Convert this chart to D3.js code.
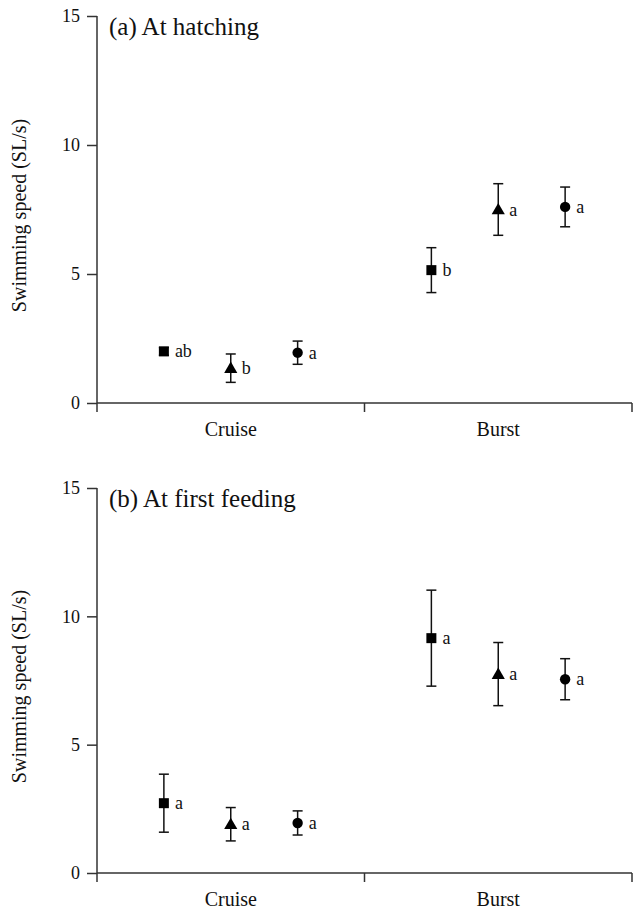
<!DOCTYPE html>
<html>
<head>
<meta charset="utf-8">
<title>Swimming speed</title>
<script src="https://d3js.org/d3.v7.min.js"></script>
<style>
body { margin: 0; background: #fff; }
</style>
</head>
<body>
<script>
// categories and groups
var categories = ["Cruise", "Burst"];
var groups = ["square", "triangle", "circle"];
var yTicks = [0, 5, 10, 15];

// (a) At hatching: values per category, in group order
var hatchMean = [[2.0, 1.35, 1.95], [5.15, 7.5, 7.6]];
var hatchErr = [[0.15, 0.55, 0.45], [0.87, 1.0, 0.77]];
var hatchLetters = [["ab", "b", "a"], ["b", "a", "a"]];

// (b) At first feeding
var feedMean = [[2.72, 1.9, 1.95], [9.15, 7.75, 7.55]];
var feedErr = [[1.13, 0.65, 0.47], [1.87, 1.23, 0.8]];
var feedLetters = [["a", "a", "a"], ["a", "a", "a"]];

var FONT = "'Liberation Serif', 'DejaVu Serif', serif";

var W = 634, H = 911;
var svg = d3.select("body").append("svg")
	.attr("width", W)
	.attr("height", H)
	.attr("font-family", FONT);

var left = 97, right = 632;

function panel(title, means, errs, letters, top, bottom) {
	var g = svg.append("g");

	var x = d3.scaleBand().domain(categories).range([left, right]).padding(0);
	var xg = d3.scalePoint().domain(groups).range([0, x.bandwidth()]).padding(1);
	var y = d3.scaleLinear().domain([0, 15]).range([bottom, top]);

	// y axis
	var ya = g.append("g")
		.attr("transform", "translate(" + left + ",0)")
		.call(d3.axisLeft(y).tickValues(yTicks).tickSize(10).tickPadding(7));
	ya.attr("font-family", FONT).attr("font-size", 18);
	ya.select(".domain").attr("d", "M0," + top + "V" + (bottom + 9));
	ya.selectAll("line, path").attr("stroke", "#333").attr("stroke-width", 1.5);
	ya.selectAll("text").attr("fill", "#111");

	// x axis: line with ticks at band edges (pointing down)
	g.append("line")
		.attr("x1", left).attr("x2", right)
		.attr("y1", bottom).attr("y2", bottom)
		.attr("stroke", "#333").attr("stroke-width", 1.5);
	g.selectAll(".xt").data(categories).enter().append("line")
		.attr("x1", function(d) { return x(d) + x.bandwidth(); })
		.attr("x2", function(d) { return x(d) + x.bandwidth(); })
		.attr("y1", bottom).attr("y2", bottom + 9)
		.attr("stroke", "#333").attr("stroke-width", 1.5);
	g.selectAll(".xl").data(categories).enter().append("text")
		.attr("x", function(d) { return x(d) + x.bandwidth() / 2; })
		.attr("y", bottom + 33)
		.attr("text-anchor", "middle")
		.attr("font-size", 20)
		.attr("fill", "#111")
		.text(function(d) { return d; });

	// y label
	g.append("text")
		.attr("transform", "translate(26," + ((top + bottom) / 2 + 6) + ") rotate(-90)")
		.attr("text-anchor", "middle")
		.attr("font-size", 20)
		.attr("fill", "#111")
		.text("Swimming speed (SL/s)");

	// title
	g.append("text")
		.attr("x", 109).attr("y", top + 19)
		.attr("font-size", 25)
		.attr("fill", "#111")
		.text(title);

	var pts = [];
	categories.forEach(function(c, i) {
		groups.forEach(function(s, j) {
			pts.push({ cat: c, grp: s, m: means[i][j], e: errs[i][j], l: letters[i][j] });
		});
	});

	var px = function(d) { return x(d.cat) + xg(d.grp); };

	// error bars
	var eb = g.selectAll(".eb").data(pts).enter().append("g");
	eb.append("line")
		.attr("x1", px).attr("x2", px)
		.attr("y1", function(d) { return y(d.m + d.e); })
		.attr("y2", function(d) { return y(d.m - d.e); })
		.attr("stroke", "#111").attr("stroke-width", 1.5);
	[1, -1].forEach(function(s) {
		eb.append("line")
			.attr("x1", function(d) { return px(d) - 5; })
			.attr("x2", function(d) { return px(d) + 5; })
			.attr("y1", function(d) { return y(d.m + s * d.e); })
			.attr("y2", function(d) { return y(d.m + s * d.e); })
			.attr("stroke", "#111").attr("stroke-width", 1.5);
	});

	// markers
	var shapes = { square: d3.symbolSquare, triangle: d3.symbolTriangle, circle: d3.symbolCircle };
	var sizes = { square: 100, triangle: 75, circle: 85 };
	g.selectAll(".pt").data(pts).enter().append("path")
		.attr("transform", function(d) {
			var dy = d.grp === "triangle" ? 1 : 0;
			return "translate(" + px(d) + "," + (y(d.m) + dy) + ")";
		})
		.attr("d", function(d) { return d3.symbol().type(shapes[d.grp]).size(sizes[d.grp])(); })
		.attr("fill", "#000");

	// significance letters
	g.selectAll(".lt").data(pts).enter().append("text")
		.attr("x", function(d) { return px(d) + 11; })
		.attr("y", function(d) { return y(d.m) + 6; })
		.attr("font-size", 18)
		.attr("fill", "#111")
		.text(function(d) { return d.l; });
}

panel("(a) At hatching", hatchMean, hatchErr, hatchLetters, 16, 403);
panel("(b) At first feeding", feedMean, feedErr, feedLetters, 488, 873);
</script>
</body>
</html>
